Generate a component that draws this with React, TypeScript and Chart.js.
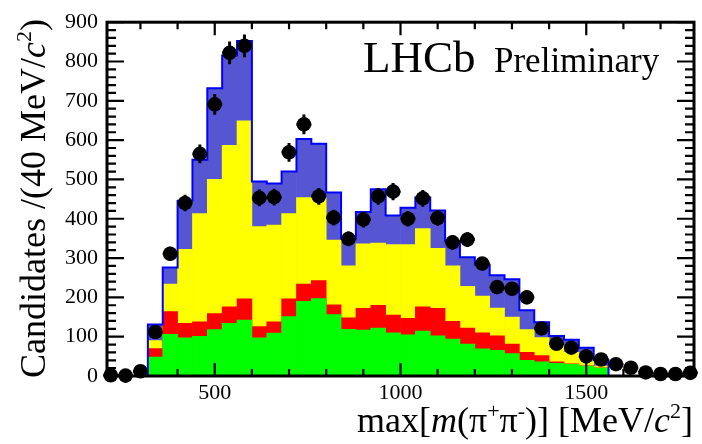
import React, { useEffect, useRef } from "react";
import { Chart, registerables } from "chart.js";

Chart.register(...registerables);

// ---- data (bin centres in MeV/c^2, 40 MeV bins) ----
const binCenters = [220, 260, 300, 340, 380, 420, 460, 500, 540, 580, 620, 660, 700, 740, 780, 820, 860, 900, 940, 980, 1020, 1060, 1100, 1140, 1180, 1220, 1260, 1300, 1340, 1380, 1420, 1460, 1500, 1540, 1580, 1620, 1660, 1700, 1740, 1780];
const binWidth = 40;
const dataCounts = [2, 1, 12, 112, 311, 440, 565, 691, 822, 840, 453, 455, 569, 640, 457, 403, 349, 398, 457, 469, 400, 452, 402, 340, 347, 286, 226, 222, 200, 121, 82, 72, 50, 42, 30, 21, 9, 5, 5, 8];
const dataErrors = [1.4, 1, 3.5, 10.6, 17.6, 21, 23.8, 26.3, 28.7, 29, 21.3, 21.3, 23.9, 25.3, 21.4, 20.1, 18.7, 20, 21.4, 21.7, 20, 21.3, 20, 18.4, 18.6, 16.9, 15, 14.9, 14.1, 11, 9.1, 8.5, 7.1, 6.5, 5.5, 4.6, 3, 2.2, 2.2, 2.8];
// cumulative (stacked) levels of the fit components
const greenLevel = [0, 0, 0, 48, 106, 97, 101, 118, 134, 142, 97, 109, 151, 190, 197, 156, 119, 117, 122, 110, 105, 114, 102, 94, 81, 69, 65, 57, 40, 36, 32, 30, 25, 20, 0, 0, 0, 0, 0, 0];
const redLevel = [0, 0, 0, 70, 164, 134, 138, 159, 176, 196, 126, 138, 196, 234, 243, 181, 148, 172, 180, 155, 147, 176, 172, 139, 122, 110, 102, 81, 60, 52, 36, 31, 26, 21, 0, 0, 0, 0, 0, 0];
const yellowLevel = [0, 0, 0, 90, 234, 322, 413, 500, 587, 649, 380, 384, 413, 454, 454, 346, 280, 336, 338, 334, 334, 375, 325, 280, 228, 203, 173, 150, 118, 98, 78, 60, 45, 25, 0, 0, 0, 0, 0, 0];
const blueLevel = [0, 0, 0, 131, 276, 446, 550, 732, 815, 852, 495, 490, 520, 603, 591, 467, 350, 417, 475, 408, 428, 454, 421, 343, 302, 283, 256, 246, 167, 137, 102, 92, 72, 40, 0, 0, 0, 0, 0, 0];

const xLabelTicks = [500, 1000, 1500];
const yLabelTicks = [0, 100, 200, 300, 400, 500, 600, 700, 800, 900];
const X_MIN = 210;
const X_MAX = 1790;
const Y_MAX = 900;

const SERIF = '"Liberation Serif", "Times New Roman", serif';

type Seg = { t: string; it?: boolean; sup?: boolean };
const yTitle: Seg[] = [{ t: "Candidates /(40 MeV/" }, { t: "c", it: true }, { t: "2", sup: true }, { t: ")" }];
const xTitle: Seg[] = [
  { t: "max[" }, { t: "m", it: true }, { t: "(\u03c0" }, { t: "+", sup: true }, { t: "\u03c0" }, { t: "-", sup: true },
  { t: ")] [MeV/" }, { t: "c", it: true }, { t: "2", sup: true }, { t: "]" },
];

function drawRich(ctx: CanvasRenderingContext2D, segs: Seg[], x: number, y: number, size: number, align: "left" | "right") {
  const fontFor = (s: Seg) => `${s.it ? "italic " : ""}${s.sup ? Math.round(size * 0.6) : size}px ${SERIF}`;
  let total = 0;
  const widths: number[] = [];
  for (const s of segs) {
    ctx.font = fontFor(s);
    const w = ctx.measureText(s.t).width;
    widths.push(w);
    total += w;
  }
  let cx = align === "right" ? x - total : x;
  ctx.textAlign = "left";
  ctx.textBaseline = "alphabetic";
  segs.forEach((s, i) => {
    ctx.font = fontFor(s);
    ctx.fillText(s.t, cx, s.sup ? y - size * 0.4 : y);
    cx += widths[i];
  });
}

const bars = (data: number[], color: string) => ({
  type: "bar" as const,
  data: binCenters.map((c, i) => ({ x: c, y: data[i] })),
  backgroundColor: color,
  borderWidth: 0,
  grouped: false,
  barPercentage: 1,
  categoryPercentage: 1,
});

export default function App() {
  const ref = useRef<HTMLCanvasElement | null>(null);

  useEffect(() => {
    if (!ref.current) return;

    const errorBars = {
      id: "errorBars",
      afterDatasetsDraw(chart: any) {
        const { ctx, scales } = chart;
        const x = scales.x, y = scales.y;
        ctx.save();
        ctx.strokeStyle = "#000";
        ctx.lineWidth = 3;
        ctx.beginPath();
        binCenters.forEach((c, i) => {
          const px = x.getPixelForValue(c);
          const py = y.getPixelForValue(dataCounts[i]);
          ctx.moveTo(x.getPixelForValue(c - binWidth / 2), py);
          ctx.lineTo(x.getPixelForValue(c + binWidth / 2), py);
          ctx.moveTo(px, y.getPixelForValue(dataCounts[i] + dataErrors[i]));
          ctx.lineTo(px, y.getPixelForValue(Math.max(0, dataCounts[i] - dataErrors[i])));
        });
        ctx.stroke();
        ctx.restore();
      },
    };

    const frame = {
      id: "frame",
      afterDraw(chart: any) {
        const { ctx, chartArea: a, scales } = chart;
        const x = scales.x, y = scales.y;
        ctx.save();
        ctx.strokeStyle = "#000";
        ctx.lineCap = "butt";
        ctx.lineWidth = 2.2;
        ctx.beginPath();
        for (let v = 0; v <= Y_MAX; v += 20) {
          const py = y.getPixelForValue(v);
          const len = v % 100 === 0 ? 17 : 9;
          ctx.moveTo(a.left, py);
          ctx.lineTo(a.left + len, py);
          ctx.moveTo(a.right, py);
          ctx.lineTo(a.right - len, py);
        }
        for (let v = 300; v < X_MAX; v += 100) {
          const px = x.getPixelForValue(v);
          const len = v % 500 === 0 ? 13 : 7;
          ctx.moveTo(px, a.bottom);
          ctx.lineTo(px, a.bottom - len);
          ctx.moveTo(px, a.top);
          ctx.lineTo(px, a.top + len);
        }
        ctx.stroke();
        ctx.lineWidth = 3;
        ctx.strokeRect(a.left, a.top, a.right - a.left, a.bottom - a.top);

        ctx.fillStyle = "#000";
        ctx.textAlign = "left";
        ctx.textBaseline = "alphabetic";
        ctx.font = `45px ${SERIF}`;
        ctx.fillText("LHCb", 363, 72);
        ctx.font = `35px ${SERIF}`;
        ctx.fillText("Preliminary", 494, 72);

        drawRich(ctx, xTitle, 693, 432, 36, "right");

        ctx.save();
        ctx.translate(45, 378);
        ctx.rotate(-Math.PI / 2);
        drawRich(ctx, yTitle, 0, 0, 36, "left");
        ctx.restore();

        ctx.restore();
      },
    };

    const outline = [
      ...binCenters.map((c, i) => ({ x: c - binWidth / 2, y: blueLevel[i] })),
      { x: binCenters[binCenters.length - 1] + binWidth / 2, y: blueLevel[blueLevel.length - 1] },
    ];

    const chart = new Chart(ref.current, {
      type: "bar",
      data: {
        datasets: [
          {
            type: "scatter",
            data: binCenters.map((c, i) => ({ x: c, y: dataCounts[i] })),
            backgroundColor: "#000",
            borderColor: "#000",
            borderWidth: 0,
            pointRadius: 7.3,
            clip: false,
          } as any,
          {
            type: "line",
            data: outline,
            borderColor: "#0000ff",
            borderWidth: 2,
            pointRadius: 0,
            stepped: true,
            fill: false,
          } as any,
          bars(greenLevel, "#00ff00"),
          bars(redLevel, "#ff0000"),
          bars(yellowLevel, "#ffff00"),
          bars(blueLevel, "#5656d2"),
        ],
      },
      options: {
        responsive: false,
        animation: false,
        events: [],
        layout: { padding: { top: 14, right: 8, left: 0, bottom: 0 } },
        plugins: { legend: { display: false }, tooltip: { enabled: false }, title: { display: false } },
        scales: {
          x: {
            type: "linear",
            min: X_MIN,
            max: X_MAX,
            offset: false,
            afterBuildTicks: (s: any) => {
              s.ticks = xLabelTicks.map((v) => ({ value: v }));
            },
            afterFit: (s: any) => {
              s.height = 68;
            },
            grid: { display: false, drawTicks: false },
            border: { display: false },
            ticks: {
              autoSkip: false,
              maxRotation: 0,
              padding: 4,
              color: "#000",
              font: { family: SERIF, size: 22 },
              callback: (v: any) => String(v),
            },
          },
          y: {
            type: "linear",
            min: 0,
            max: Y_MAX,
            afterBuildTicks: (s: any) => {
              s.ticks = yLabelTicks.map((v) => ({ value: v }));
            },
            afterFit: (s: any) => {
              s.width = 107;
            },
            grid: { display: false, drawTicks: false },
            border: { display: false },
            ticks: {
              padding: 9,
              color: "#000",
              font: { family: SERIF, size: 22 },
              callback: (v: any) => String(v),
            },
          },
        },
      } as any,
      plugins: [errorBars, frame],
    });

    return () => chart.destroy();
  }, []);

  return (
    <div style={{ position: "fixed", left: 0, top: 0, width: 702, height: 444, background: "#fff" }}>
      <canvas ref={ref} width={702} height={444} style={{ display: "block" }} />
    </div>
  );
}
